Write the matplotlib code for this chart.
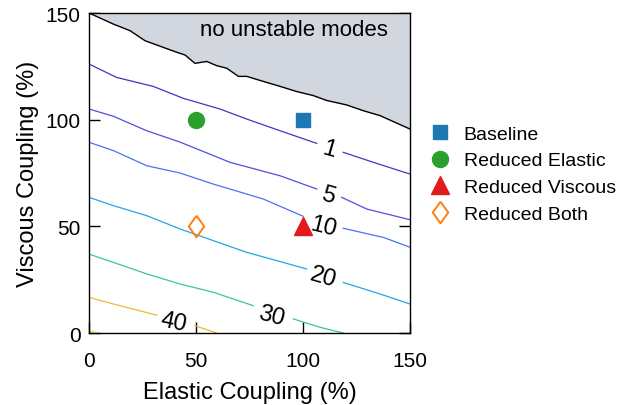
import numpy as np
import matplotlib
matplotlib.use('Agg')
import matplotlib.pyplot as plt

plt.rcParams['font.family'] = ['Liberation Sans', 'DejaVu Sans']

nan = np.nan

# stability boundary (above it: no unstable modes)
bound_x = [0, 11.4, 19.2, 26.2, 41.0, 44.9, 49.5, 55.0, 59.7, 64.4, 69.8, 73.7,
           79.9, 89.3, 97.0, 104.8, 111.1, 120.4, 128.2, 136.0, 150]
bound_y = [150, 144.8, 141.7, 137.0, 131.6, 130.3, 126.4, 127.3, 125.3, 124.1, 120.3,
           120.3, 118.4, 115.6, 113.2, 111.3, 109.0, 106.9, 104.2, 101.9, 95.6]

# contour levels of growth rate, nan = gap for the inline label
levels = [1, 5, 10, 20, 30, 40, 50]
lev_x = {
    1: [0, 12.9, 30.0, 44.1, 61.2, 73.7, 89.3, 106.4, nan, 118.8, 132.9, 150],
    5: [0, 11.4, 27.0, 42.5, 65.9, 89.3, 106.4, nan, 118.1, 129.8, 150],
    10: [0, 11.4, 27.0, 42.5, 58.1, 81.5, 100.1, nan, 118.8, 137.6, 150],
    20: [0, 11.4, 27.0, 42.5, 58.1, 73.7, 89.3, 101.7, nan, 118.8, 136.0, 150],
    30: [0, 11.4, 27.0, 42.5, 58.1, 76.8, nan, 95.5, 107.9, 118.8],
    40: [0, 11.4, 31.6, nan, 49.5, 59.7],
    50: [0, 4.3],
}
lev_y = {
    1: [126.1, 119.8, 115.6, 110.0, 105.0, 100.3, 94.8, 88.9, nan, 84.7, 80.0, 74.5],
    5: [105.0, 101.6, 94.8, 89.5, 80.0, 73.7, 67.5, nan, 63.6, 58.1, 53.1],
    10: [89.4, 85.5, 78.4, 75.0, 69.8, 62.8, 54.7, nan, 49.1, 44.8, 40.2],
    20: [63.6, 59.7, 55.0, 48.8, 43.3, 37.8, 33.5, 30.0, nan, 23.7, 18.3, 13.6],
    30: [37.0, 33.1, 27.7, 23.0, 19.1, 12.8, nan, 6.6, 2.7, 0],
    40: [16.7, 13.6, 8.4, nan, 3.4, 0],
    50: [1.1, 0],
}
lev_colors = ['#4533c0', '#4f4fdf', '#4a72f2', '#1fa8e2', '#3fc58f', '#ecb934', '#f5dc1e']

# label positions (centre of each gap)
lab_levels = [1, 5, 10, 20, 30, 40]
lab_x = [112.1, 111.8, 109.5, 109.5, 85.4, 39.4]
lab_y = [86.3, 64.8, 50.0, 26.1, 8.1, 5.0]
lab_rot = [-16, -16, -14, -16, -15, -12]

# cases
case_names = ['Baseline', 'Reduced Elastic', 'Reduced Viscous', 'Reduced Both']
case_elastic = [100, 50, 100, 50]
case_viscous = [100, 100, 50, 50]

fig = plt.figure(figsize=(6.19, 4.06), dpi=100)
ax = fig.add_axes([0.1438, 0.1773, 0.5186, 0.7882])

ax.fill_between(bound_x, bound_y, 150, color='#d2d6df', lw=0, zorder=2.7)
ax.plot(bound_x, bound_y, color='black', lw=1.0, zorder=2.8)

for lev, c in zip(levels, lev_colors):
    ax.plot(lev_x[lev], lev_y[lev], color=c, lw=0.9, zorder=2)

for lev, lx, ly, rot in zip(lab_levels, lab_x, lab_y, lab_rot):
    ax.text(lx, ly, str(lev), fontsize=17, ha='center', va='center',
            rotation=rot, rotation_mode='anchor', zorder=3)

diamond = [(0, 1), (0.72, 0), (0, -1), (-0.72, 0), (0, 1)]
ax.plot(case_elastic[0], case_viscous[0], 's', ms=9.4, color='#1f77b4', lw=0,
        label=case_names[0], zorder=4)
ax.plot(case_elastic[1], case_viscous[1], 'o', ms=11.5, color='#2ca02c', lw=0,
        label=case_names[1], zorder=4)
ax.plot(case_elastic[2], case_viscous[2], '^', ms=13.5, color='#e31a1c', lw=0,
        label=case_names[2], zorder=4)
ax.plot(case_elastic[3], case_viscous[3], marker=diamond, ms=15.5, mfc='none',
        mec='#ff7f0e', mew=1.4, lw=0, label=case_names[3], zorder=4)

ax.text(95.6, 142.5, 'no unstable modes', fontsize=16, ha='center', va='center', zorder=3)

ax.set_xlim(0, 150)
ax.set_ylim(0, 150)
ax.set_xticks([0, 50, 100, 150])
ax.set_yticks([0, 50, 100, 150])
ax.tick_params(direction='in', length=8, width=1, labelsize=15, right=True, top=False)
ax.tick_params(axis='x', pad=13)
ax.tick_params(axis='y', pad=6)
for sp in ax.spines.values():
    sp.set_linewidth(1.0)
    sp.set_zorder(3)
ax.set_xlabel('Elastic Coupling (%)', fontsize=17, labelpad=8)
ax.set_ylabel('Viscous Coupling (%)', fontsize=17, labelpad=5)

ax.legend(loc='center left', bbox_to_anchor=(1.04, 0.497), frameon=False, fontsize=14,
          numpoints=1, handlelength=1.0, handletextpad=0.7, labelspacing=0.46,
          borderaxespad=0)

fig.savefig('out.png', dpi=100)
